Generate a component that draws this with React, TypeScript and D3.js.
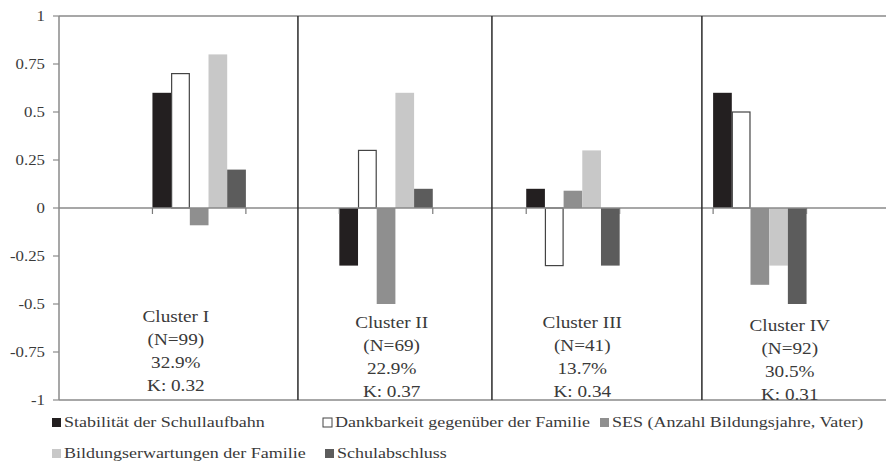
import React from "react";
import * as d3 from "d3";

const clusters = ["Cluster I", "Cluster II", "Cluster III", "Cluster IV"];
const series = [
  "Stabilität der Schullaufbahn",
  "Dankbarkeit gegenüber der Familie",
  "SES (Anzahl Bildungsjahre, Vater)",
  "Bildungserwartungen der Familie",
  "Schulabschluss",
];
const stabilitaet = [0.6, -0.3, 0.1, 0.6];
const dankbarkeit = [0.7, 0.3, -0.3, 0.5];
const ses = [-0.09, -0.5, 0.09, -0.4];
const bildungserwartungen = [0.8, 0.6, 0.3, -0.3];
const schulabschluss = [0.2, 0.1, -0.3, -0.5];
const seriesValues = [stabilitaet, dankbarkeit, ses, bildungserwartungen, schulabschluss];

const clusterN = ["(N=99)", "(N=69)", "(N=41)", "(N=92)"];
const clusterPct = ["32.9%", "22.9%", "13.7%", "30.5%"];
const clusterK = ["K: 0.32", "K: 0.37", "K: 0.34", "K: 0.31"];
// label anchor positions (slot units on x, value units on y)
const labelSlot = [1.25, 3.56, 5.6, 7.82];
const labelValue = [-0.595, -0.625, -0.625, -0.64];
// hand drawn dividers (slot units)
const dividerSlots = [2.557, 4.633, 6.88];

const yTicks = [1, 0.75, 0.5, 0.25, 0, -0.25, -0.5, -0.75, -1];
const yTickLabels = ["1", "0.75", "0.5", "0.25", "0", "-0.25", "-0.5", "-0.75", "-1"];

const colors = ["#231f20", "#ffffff", "#8f8f8f", "#c8c8c8", "#5c5c5c"];
const strokes = ["none", "#444444", "none", "none", "none"];

const W = 886;
const H = 463;
const left = 59;
const rightEdge = 900;
const top = 16;
const bottom = 400;
const SX = 1.2;
const FONT = "Liberation Serif, Times New Roman, Times, DejaVu Serif, serif";
const TXT = "#3a3a3a";

export default function App() {
  const y = d3.scaleLinear().domain([-1, 1]).range([bottom, top]);
  const slot = d3.scaleLinear().domain([0, 9]).range([left, rightEdge]);
  const x0 = d3
    .scaleBand<string>()
    .domain(clusters)
    .range([left, rightEdge])
    .paddingInner(0.5)
    .paddingOuter(0.5);
  const x1 = d3.scaleBand<string>().domain(series).range([0, x0.bandwidth()]).padding(0);

  const legendItems = [
    { i: 0, x: 52, row: 0 },
    { i: 1, x: 323, row: 0 },
    { i: 2, x: 600, row: 0 },
    { i: 3, x: 52, row: 1 },
    { i: 4, x: 325, row: 1 },
  ];
  const legendRowY = [427, 458];

  const stretchText = (x: number, yy: number, s: string, anchor: string, size: number, key?: any, dy?: string) => (
    <text
      key={key}
      transform={`translate(${x},${yy}) scale(${SX},1)`}
      textAnchor={anchor as any}
      style={{ fontFamily: FONT, fontSize: size }}
      fill={TXT}
      dy={dy}
    >
      {s}
    </text>
  );

  return (
    <svg
      width={W}
      height={H}
      style={{ position: "absolute", left: 0, top: 0, background: "#fff" }}
    >
      <rect x={0} y={0} width={W} height={H} fill="#fff" />
      {/* plot frame */}
      <line x1={left} x2={rightEdge} y1={y(1)} y2={y(1)} stroke="#8a8a8a" strokeWidth={1.5} />
      <line x1={left} x2={rightEdge} y1={y(-1)} y2={y(-1)} stroke="#8a8a8a" strokeWidth={1.5} />
      <line x1={left} x2={left} y1={y(1)} y2={y(-1)} stroke="#8a8a8a" strokeWidth={1.5} />
      {/* y ticks */}
      {yTicks.map((t, i) => (
        <g key={"yt" + i}>
          <line x1={left - 6} x2={left} y1={y(t)} y2={y(t)} stroke="#8a8a8a" strokeWidth={1.2} />
          {stretchText(left - 14, y(t), yTickLabels[i], "end", 14, undefined, "0.35em")}
        </g>
      ))}
      {/* bars */}
      {clusters.map((c, ci) => (
        <g key={c} transform={`translate(${x0(c)},0)`}>
          {series.map((s, si) => {
            const v = seriesValues[si][ci];
            const bx = x1(s) as number;
            const w = x1.bandwidth();
            const yy = Math.min(y(v), y(0));
            const h = Math.abs(y(v) - y(0));
            return (
              <rect
                key={s}
                x={strokes[si] === "none" ? bx : bx + 0.5}
                y={yy}
                width={strokes[si] === "none" ? w : w - 1}
                height={h}
                fill={colors[si]}
                stroke={strokes[si]}
                strokeWidth={1.2}
              />
            );
          })}
        </g>
      ))}
      {/* zero line + category ticks */}
      <line x1={left} x2={rightEdge} y1={y(0)} y2={y(0)} stroke="#8a8a8a" strokeWidth={1.5} />
      {d3.range(1, 9).map((k) => (
        <line key={"ct" + k} x1={slot(k)} x2={slot(k)} y1={y(0)} y2={y(0) + 6} stroke="#7a7a7a" strokeWidth={1.2} />
      ))}
      {/* dividers */}
      {dividerSlots.map((d, i) => (
        <line key={"dv" + i} x1={slot(d)} x2={slot(d)} y1={y(1)} y2={y(-1)} stroke="#2a2a2a" strokeWidth={1.5} />
      ))}
      {/* cluster labels */}
      {clusters.map((c, ci) => {
        const cx = slot(labelSlot[ci]);
        const by = y(labelValue[ci]);
        const lines = [c, clusterN[ci], clusterPct[ci], clusterK[ci]];
        return (
          <g key={"lab" + c}>
            {lines.map((l, li) => stretchText(cx, by + li * 23, l, "middle", 16, li))}
          </g>
        );
      })}
      {/* legend */}
      {legendItems.map((it) => {
        const ly = legendRowY[it.row];
        return (
          <g key={"lg" + it.i}>
            <rect
              x={it.x}
              y={ly - 9}
              width={9}
              height={9}
              fill={colors[it.i]}
              stroke={strokes[it.i]}
              strokeWidth={1}
            />
            {stretchText(it.x + 12, ly, series[it.i], "start", 15)}
          </g>
        );
      })}
    </svg>
  );
}
